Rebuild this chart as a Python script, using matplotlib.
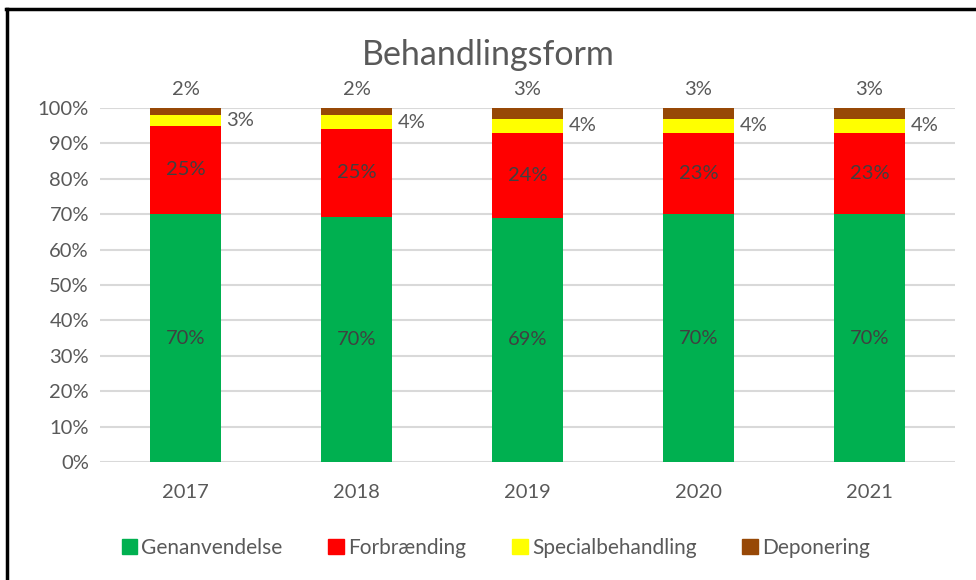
import numpy as np
import matplotlib.pyplot as plt
from matplotlib.patches import Patch
from matplotlib.lines import Line2D

plt.rcParams['font.family'] = ['Lato', 'DejaVu Sans']

years = ['2017', '2018', '2019', '2020', '2021']
genanvendelse = [70, 70, 69, 70, 70]
forbraending = [25, 25, 24, 23, 23]
special = [3, 4, 4, 4, 4]
deponering = [2, 2, 3, 3, 3]

names = ['Genanvendelse', 'Forbrænding', 'Specialbehandling', 'Deponering']
colors = ['#00B050', '#FF0000', '#FFFF00', '#974806']
series = np.array([genanvendelse, forbraending, special, deponering], dtype=float)
shares = series / series.sum(axis=0)

txt = '#595959'
inner = '#404040'

fig = plt.figure(figsize=(9.76, 5.80), dpi=100)
ax = fig.add_axes([0.1025, 0.2034, 0.876, 0.6104])

x = np.arange(len(years))
w = 0.415
bottom = np.zeros(len(years))
for i in range(4):
    ax.bar(x, shares[i], w, bottom=bottom, color=colors[i], zorder=2)
    for j in range(len(years)):
        lab = f'{int(series[i, j])}%'
        yc = bottom[j] + shares[i, j] / 2
        if i < 2:
            ax.text(x[j], yc, lab, ha='center', va='center', fontsize=14.5, color=inner, zorder=3)
        elif i == 2:
            ax.annotate(lab, (x[j] + w / 2, yc), xytext=(4, 0), textcoords='offset points',
                        ha='left', va='center', fontsize=14.5, color=txt)
        else:
            ax.annotate(lab, (x[j], 1.0), xytext=(0, 7), textcoords='offset points',
                        ha='center', va='bottom', fontsize=14.5, color=txt)
    bottom += shares[i]

ax.set_xlim(-0.5, len(years) - 0.5)
ax.set_ylim(0, 1)
ax.set_yticks(np.arange(0, 1.01, 0.1))
ax.set_yticklabels([f'{int(round(v * 100))}%' for v in np.arange(0, 1.01, 0.1)])
ax.set_xticks(x)
ax.set_xticklabels(years)
ax.tick_params(length=0, labelsize=14.5, colors=txt)
ax.tick_params(axis='x', pad=16)
ax.tick_params(axis='y', pad=8)
ax.yaxis.grid(True, color='#D9D9D9', linewidth=1.5, zorder=0)
ax.set_axisbelow(True)
for s in ax.spines.values():
    s.set_visible(False)

fig.text(0.5, 0.905, 'Behandlingsform', ha='center', va='center', fontsize=24.5, color=txt)

handles = [Patch(color=c, label=n) for c, n in zip(colors, names)]
fig.legend(handles=handles, loc='center', bbox_to_anchor=(0.508, 0.055), ncol=4, frameon=False,
           fontsize=15, labelcolor=txt, handlelength=0.75, handleheight=0.75,
           handletextpad=0.2, columnspacing=2.2)

# frame around the chart
fig.add_artist(Line2D([6 / 976, 1], [1 - 9 / 580, 1 - 9 / 580], color='black', linewidth=2.5,
                      transform=fig.transFigure))
fig.add_artist(Line2D([6.5 / 976, 6.5 / 976], [0, 1 - 9 / 580], color='black', linewidth=2.5,
                      transform=fig.transFigure))

fig.savefig('out.png', dpi=100)
